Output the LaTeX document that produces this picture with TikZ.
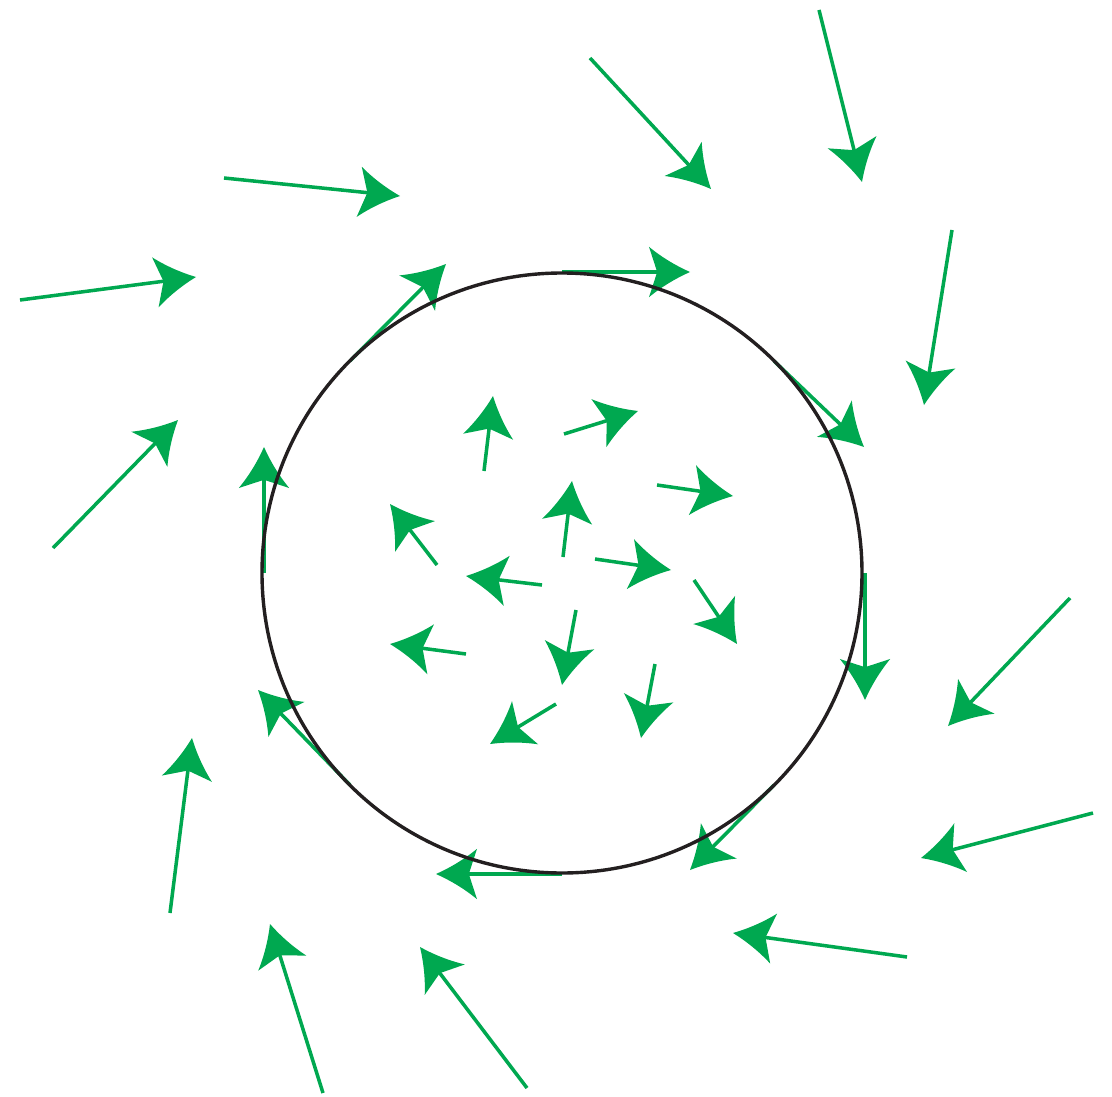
\documentclass[tikz,border=0pt]{standalone}
\usetikzlibrary{arrows.meta}
\definecolor{vgreen}{RGB}{0,168,80}
\definecolor{cblack}{RGB}{35,31,32}
\pgfdeclarearrow{
  name=VHead,
  setup code={
    \pgfarrowssettipend{0pt}
    \pgfarrowssetlineend{-0.7cm}
    \pgfarrowssetbackend{-1.025cm}
    \pgfarrowssetvisualbackend{-0.82cm}
    \pgfarrowshullpoint{0pt}{0pt}
    \pgfarrowshullpoint{-1.025cm}{0.63cm}
    \pgfarrowshullpoint{-1.025cm}{-0.63cm}
  },
  drawing code={
    \pgfpathmoveto{\pgfpointorigin}
    \pgfpathcurveto{\pgfpoint{-0.36cm}{0.16cm}}{\pgfpoint{-0.71cm}{0.37cm}}{\pgfpoint{-1.025cm}{0.63cm}}
    \pgfpathlineto{\pgfpoint{-0.82cm}{0pt}}
    \pgfpathlineto{\pgfpoint{-1.025cm}{-0.63cm}}
    \pgfpathcurveto{\pgfpoint{-0.71cm}{-0.37cm}}{\pgfpoint{-0.36cm}{-0.16cm}}{\pgfpointorigin}
    \pgfpathclose
    \pgfusepathqfill
  }
}
\begin{document}
\begin{tikzpicture}[x=0.025cm,y=-0.025cm,
  vec/.style={color=vgreen,line width=0.088cm,-VHead},
  limit/.style={draw=cblack,line width=0.085cm}]
\useasboundingbox (0,0) rectangle (1112,1097);
% outer field
\foreach \ax/\ay/\bx/\by in {
  819/10/862/182, 590/58/711/189, 224/178/400/196, 20/300/196/277,
  952/230/924/405, 562/272/690/272, 350/361/446/264, 774/361/864/447,
  53/548/178/420, 264/573/264/447, 865/573/865/700, 1070/598/948/726,
  350/785/258/690, 170/913/192/738, 1093/813/921/858, 774/785/690/870,
  562/874/436/874, 907/957/733/933, 323/1093/270/924, 527/1088/420/947}
  \draw[vec] (\ax,\ay) -- (\bx,\by);
% inner field
\foreach \ax/\ay/\bx/\by in {
  484/471/493/396, 564/434/638/411, 657/485/733/496, 437/565/390/504,
  563/557/572/481, 542/585/466/576, 595/559/671/570, 694/580/737/644,
  466/654/390/644, 576/610/562/685, 655/664/641/738, 556/704/490/744}
  \draw[vec] (\ax,\ay) -- (\bx,\by);
% limit cycle
\coordinate (c) at (562,573);
\draw[limit] (c) circle[radius=300];
\end{tikzpicture}
\end{document}
